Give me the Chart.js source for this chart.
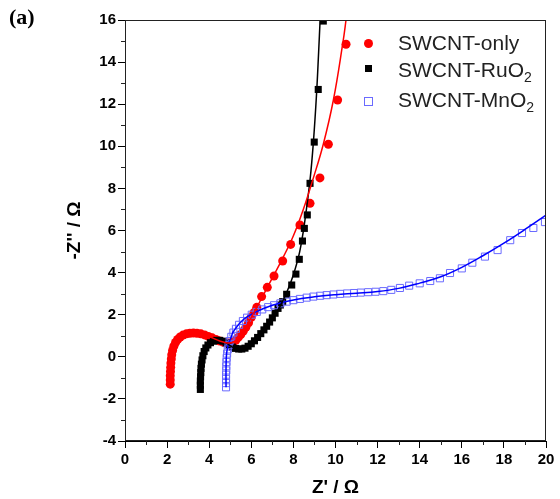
<!DOCTYPE html>
<html>
<head>
<meta charset="utf-8">
<script src="https://cdn.jsdelivr.net/npm/chart.js@4.4.1/dist/chart.umd.min.js"></script>
<style>
body{margin:0;background:#fff;}
#wrap{position:relative;width:560px;height:499px;}
#panel{position:absolute;left:9px;top:4px;font:bold 22px "Liberation Serif","Times New Roman",serif;color:#000;}
.leg{position:absolute;left:398px;font:21px "Liberation Sans",Arial,sans-serif;line-height:21px;color:#222;white-space:nowrap;}
.leg sub{font-size:14px;position:relative;top:5px;vertical-align:baseline;}
.mk{position:absolute;}
</style>
</head>
<body>
<div id="wrap">
<canvas id="eis" width="560" height="499"></canvas>
<div id="panel">(a)</div>
<div class="mk" style="left:364px;top:39px;width:9px;height:9px;border-radius:50%;background:#ff0000;"></div>
<div class="mk" style="left:365px;top:65px;width:7px;height:7px;background:#000;"></div>
<div class="mk" style="left:364px;top:97px;width:7px;height:7px;border:1px solid #6a6aff;"></div>
<div class="leg" style="top:32px;">SWCNT-only</div>
<div class="leg" style="top:59px;">SWCNT-RuO<sub>2</sub></div>
<div class="leg" style="top:89px;">SWCNT-MnO<sub>2</sub></div>
</div>
<script>

// measured points, Z' (x) and -Z'' (y)
const onlyX = [2.15,2.15,2.15,2.16,2.17,2.18,2.2,2.22,2.26,2.32,2.4,2.5,2.62,2.76,2.92,3.08,3.25,3.42,3.6,3.78,3.96,4.14,4.32,4.5,4.68,4.85,5.0,5.14,5.27,5.38,5.5,5.62,5.74,5.87,6.0,6.13,6.26,6.49,6.76,7.08,7.49,7.87,8.31,8.79,9.26,9.66,10.1,10.5];
const onlyY = [-1.3,-1.1,-0.9,-0.7,-0.5,-0.3,-0.1,0.1,0.3,0.5,0.68,0.82,0.94,1.03,1.09,1.12,1.13,1.12,1.09,1.04,0.97,0.9,0.82,0.75,0.69,0.66,0.66,0.7,0.8,0.92,1.06,1.22,1.4,1.62,1.88,2.1,2.35,2.86,3.3,3.84,4.55,5.34,6.26,7.29,8.5,10.1,12.2,14.85];

const ruX = [3.58,3.58,3.58,3.59,3.6,3.61,3.63,3.66,3.7,3.76,3.84,3.94,4.06,4.2,4.35,4.5,4.65,4.8,4.95,5.1,5.25,5.4,5.55,5.7,5.85,6.0,6.15,6.3,6.45,6.6,6.73,6.87,7.0,7.13,7.27,7.38,7.49,7.68,7.92,8.12,8.28,8.43,8.52,8.66,8.79,8.99,9.18,9.42];
const ruY = [-1.55,-1.35,-1.15,-0.95,-0.75,-0.55,-0.35,-0.15,0.05,0.25,0.42,0.56,0.67,0.74,0.78,0.78,0.74,0.66,0.56,0.46,0.4,0.37,0.37,0.41,0.5,0.62,0.76,0.92,1.1,1.28,1.45,1.65,1.85,2.07,2.3,2.46,2.62,2.97,3.41,3.93,4.63,5.5,6.1,6.74,8.24,10.2,12.7,15.95];

const mnX = [4.8,4.8,4.8,4.8,4.81,4.81,4.82,4.83,4.85,4.88,4.92,4.97,5.05,5.15,5.27,5.42,5.6,5.8,6.02,6.26,6.52,6.8,7.08,7.38,7.68,8.0,8.31,8.63,8.95,9.27,9.58,9.9,10.22,10.55,10.88,11.2,11.55,11.9,12.27,12.65,13.06,13.5,14.0,14.5,14.96,15.44,16.0,16.5,17.1,17.7,18.3,18.86,19.4,19.95];
const mnY = [-1.45,-1.25,-1.05,-0.85,-0.65,-0.45,-0.25,-0.05,0.15,0.35,0.55,0.75,0.95,1.15,1.33,1.52,1.7,1.86,2.0,2.13,2.25,2.36,2.45,2.54,2.62,2.69,2.75,2.81,2.86,2.9,2.93,2.96,2.99,3.01,3.03,3.05,3.07,3.09,3.12,3.18,3.27,3.38,3.49,3.6,3.73,3.98,4.2,4.47,4.76,5.07,5.54,5.88,6.12,6.4];

// fitted curves
const onlyFitX = [2.15,2.17,2.22,2.32,2.5,2.76,3.08,3.42,3.78,4.14,4.5,4.85,5.1,5.35,5.65,6.0,6.5,7.0,7.5,8.0,8.47,8.95,9.42,9.9,10.34,10.5,10.6];
const onlyFitY = [-1.3,-0.5,0.1,0.5,0.82,1.03,1.12,1.12,1.04,0.9,0.75,0.66,0.68,0.86,1.26,1.87,2.8,3.75,4.7,5.75,7.0,8.5,10.1,12.2,14.85,16,16.8];

const ruFitX = [3.58,3.6,3.66,3.76,3.94,4.2,4.5,4.8,5.1,5.4,5.7,6.0,6.5,7.0,7.36,7.7,8.0,8.3,8.55,8.79,8.95,9.1,9.2,9.27,9.3];
const ruFitY = [-1.55,-0.75,-0.15,0.25,0.56,0.74,0.78,0.66,0.46,0.37,0.41,0.6,1.1,1.75,2.38,3.1,3.9,5.0,6.5,8.4,10.2,12.5,14.5,16,16.5];

const mnFitX = [4.8,4.8,4.83,4.92,5.05,5.15,5.6,6.2,7.0,8.0,9.0,10.0,11.0,12.0,13.0,14.0,15.0,16.0,17.0,18.0,19.0,20.0];
const mnFitY = [-1.45,-0.5,0.2,0.6,0.95,1.2,1.75,2.12,2.45,2.7,2.85,2.95,3.02,3.1,3.25,3.5,3.8,4.25,4.8,5.4,6.05,6.73];

const xTicks = [0,2,4,6,8,10,12,14,16,18,20];
const yTicks = [-4,-2,0,2,4,6,8,10,12,14,16];

function pts(xs,ys){
return xs.map((x,i)=>({x:x,y:ys[i]}));
}

const tickFont = {family:"'Liberation Sans', Arial, sans-serif", size:15, weight:"bold"};
const titleFont = {family:"'Liberation Sans', Arial, sans-serif", size:19, weight:"bold"};

// minor ticks + box frame
const framePlugin = {
id:"frame",
afterDraw(chart){
const ctx = chart.ctx;
const a = chart.chartArea;
const xs = chart.scales.x, ys = chart.scales.y;
ctx.save();
ctx.strokeStyle = "#222";
ctx.lineWidth = 1;
ctx.strokeRect(a.left+0.5, a.top+0.5, a.right-a.left-1, a.bottom-a.top-1);
ctx.beginPath();
for(let v=1; v<20; v+=2){
const px = Math.round(xs.getPixelForValue(v))+0.5;
ctx.moveTo(px, a.bottom);
ctx.lineTo(px, a.bottom+4);
}
for(let v=-3; v<16; v+=2){
const py = Math.round(ys.getPixelForValue(v))+0.5;
ctx.moveTo(a.left, py);
ctx.lineTo(a.left-4, py);
}
ctx.stroke();
ctx.restore();
}
};

new Chart(document.getElementById("eis"),{
type:"scatter",
data:{
datasets:[
{
label:"only fit",
data:pts(onlyFitX,onlyFitY),
showLine:true,
borderColor:"#ff0000",
borderWidth:1.5,
pointRadius:0,
tension:0.4,
order:0
},
{
label:"RuO2 fit",
data:pts(ruFitX,ruFitY),
showLine:true,
borderColor:"#000000",
borderWidth:1.5,
pointRadius:0,
tension:0.4,
order:0
},
{
label:"MnO2 fit",
data:pts(mnFitX,mnFitY),
showLine:true,
borderColor:"#0000ff",
borderWidth:1.5,
pointRadius:0,
tension:0.4,
order:0
},
{
label:"SWCNT-MnO2",
data:pts(mnX,mnY),
pointStyle:"rect",
pointRadius:5,
borderWidth:1,
borderColor:"#6a6aff",
backgroundColor:"rgba(0,0,0,0)",
order:1
},
{
label:"SWCNT-RuO2",
data:pts(ruX,ruY),
pointStyle:"rect",
pointRadius:5,
borderWidth:0,
backgroundColor:"#000000",
order:2
},
{
label:"SWCNT-only",
data:pts(onlyX,onlyY),
pointStyle:"circle",
pointRadius:4.5,
borderWidth:0,
backgroundColor:"#ff0000",
order:3
}
]
},
options:{
responsive:false,
animation:false,
layout:{padding:{top:20,right:14,left:0,bottom:0}},
plugins:{legend:{display:false},tooltip:{enabled:false}},
scales:{
x:{
type:"linear",
min:0,max:20,
afterBuildTicks(scale){scale.ticks = xTicks.map(v=>({value:v}));},
afterFit(scale){scale.height = 58;},
grid:{drawOnChartArea:false,tickLength:7,color:"#000"},
border:{display:true,color:"#000"},
ticks:{color:"#000",font:tickFont,padding:3,maxRotation:0},
title:{display:true,text:"Z' / Ω",color:"#000",font:titleFont,padding:{top:4,bottom:0}}
},
y:{
type:"linear",
min:-4,max:16,
afterBuildTicks(scale){scale.ticks = yTicks.map(v=>({value:v}));},
afterFit(scale){scale.width = 125;},
grid:{drawOnChartArea:false,tickLength:7,color:"#000"},
border:{display:true,color:"#000"},
ticks:{color:"#000",font:tickFont,padding:2},
title:{display:true,text:"-Z'' / Ω",color:"#000",font:titleFont,padding:{top:63,bottom:0}}
}
}
},
plugins:[framePlugin]
});

</script>
</body>
</html>
